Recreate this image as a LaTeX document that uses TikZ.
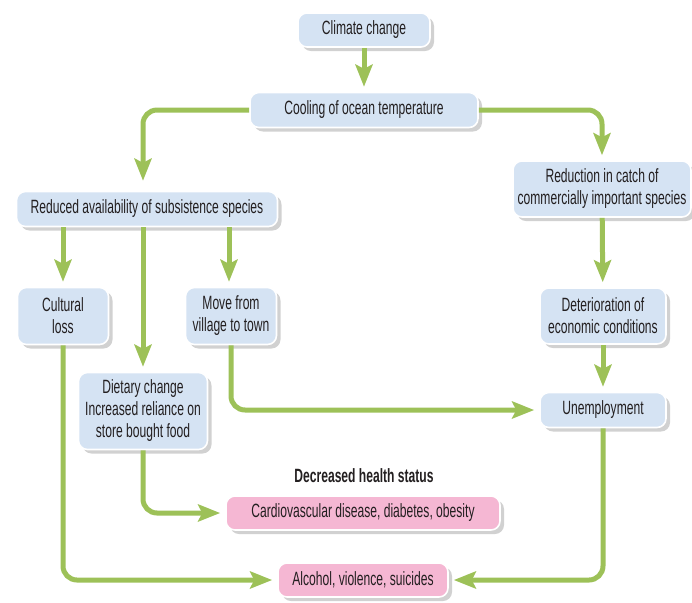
\documentclass[tikz,border=0pt]{standalone}
\usepackage{fontspec}
\setmainfont{Liberation Sans}[FakeStretch=0.63]
\usetikzlibrary{arrows.meta, shadows}

\definecolor{boxblue}{RGB}{213,227,243}
\definecolor{boxpink}{RGB}{245,183,211}
\definecolor{flowgreen}{RGB}{157,193,88}
\definecolor{textgray}{RGB}{35,31,32}

\tikzset{
  box/.style={rounded corners=4.5pt, fill=boxblue, draw=white, line width=0.8pt,
    inner sep=0pt, align=center, text=textgray,
    font=\fontsize{9.6}{11}\selectfont,
    drop shadow={shadow xshift=2pt, shadow yshift=-2pt, fill=black!18, opacity=1}},
  pinkbox/.style={box, fill=boxpink},
  flow/.style={draw=flowgreen, line width=2.5pt, rounded corners=7pt,
    -{Stealth[length=11pt, width=8.5pt, inset=2pt]}, shorten >=2.5pt},
}

\begin{document}
\begin{tikzpicture}[x=0.5pt, y=-0.5pt]
\useasboundingbox (0,0) rectangle (692,602);
% Boxes
\node[box, minimum width=66pt, minimum height=17pt] (climate) at (364,30) {Climate change};
\node[box, minimum width=114pt, minimum height=17.5pt] (cooling) at (364,110) {Cooling of ocean temperature};
\node[box, minimum width=89pt, minimum height=28pt] (reduction) at (602,189)
  {Reduction in catch of\\commercially important species};
\node[box, minimum width=130.5pt, minimum height=17.5pt] (reduced) at (147,209)
  {Reduced availability of subsistence species};
\node[box, minimum width=45.5pt, minimum height=28.5pt] (cultural) at (63,316) {Cultural\\loss};
\node[box, minimum width=45.5pt, minimum height=28.5pt] (move) at (231,316) {Move from\\village to town};
\node[box, minimum width=63pt, minimum height=28pt] (deterioration) at (603,316)
  {Deterioration of\\economic conditions};
\node[box, minimum width=64.5pt, minimum height=38.5pt] (dietary) at (143,411)
  {Dietary change\\Increased reliance on\\store bought food};
\node[box, minimum width=63pt, minimum height=17.5pt] (unemployment) at (603,410) {Unemployment};
\node[text=textgray, font=\fontsize{9.6}{11}\selectfont\bfseries] (health) at (364,476)
  {Decreased health status};
\node[pinkbox, minimum width=137pt, minimum height=17pt] (cardio) at (363,513)
  {Cardiovascular disease, diabetes, obesity};
\node[pinkbox, minimum width=85pt, minimum height=17pt] (alcohol) at (363,580)
  {Alcohol, violence, suicides};
% Arrows
\draw[flow] (climate) -- (cooling);
\draw[flow, shorten >=5pt] (cooling.west) -| (dietary.north |- reduced.north);
\draw[flow] (cooling.east) -| (reduction.north);
\draw[flow] (reduced.south -| cultural.north) -- (cultural.north);
\draw[flow] (reduced.south -| dietary.north) -- (dietary.north);
\draw[flow] (reduced.south -| 229,0) -- (move.north -| 229,0);
\draw[flow] (reduction) -- (deterioration);
\draw[flow] (deterioration) -- (unemployment);
\draw[flow] (move.south) |- (unemployment.west);
\draw[flow] (cultural.south) |- (alcohol.west);
\draw[flow] (dietary.south) |- (cardio.west);
\draw[flow] (unemployment.south) |- (alcohol.east);
\end{tikzpicture}
\end{document}
